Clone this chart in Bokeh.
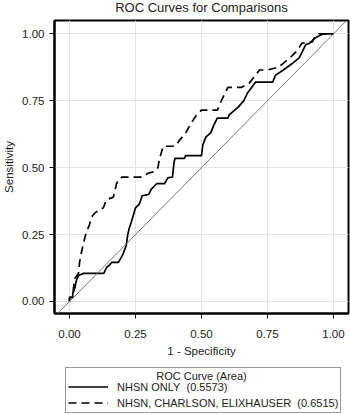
from bokeh.plotting import figure
from bokeh.models import Legend, LegendItem, Label, Slope, Range1d, FixedTicker
from bokeh.layouts import column
from bokeh.embed import file_html
from bokeh.resources import INLINE

title_text = "ROC Curves for Comparisons"
x_label = "1 - Specificity"
y_label = "Sensitivity"
legend_title = "ROC Curve (Area)"
series_names = ["NHSN ONLY\u00a0 (0.5573)", "NHSN, CHARLSON, ELIXHAUSER\u00a0 (0.6515)"]
ticks = [0.0, 0.25, 0.5, 0.75, 1.0]
tick_labels = ["0.00", "0.25", "0.50", "0.75", "1.00"]

fpr_nhsn = [0, 0, 0.012, 0.012, 0.02, 0.026, 0.034, 0.053, 0.13, 0.14, 0.15, 0.16, 0.185,
            0.196, 0.204, 0.215, 0.22, 0.226, 0.235, 0.25, 0.265, 0.275, 0.30, 0.31, 0.33,
            0.36, 0.372, 0.39, 0.396, 0.40, 0.435, 0.44, 0.50, 0.505, 0.517, 0.535, 0.547,
            0.56, 0.60, 0.605, 0.62, 0.64, 0.66, 0.675, 0.69, 0.705, 0.77, 0.78, 0.81,
            0.845, 0.87, 0.88, 0.895, 0.91, 0.93, 0.95, 0.96, 1.0]
tpr_nhsn = [0, 0.015, 0.015, 0.03, 0.05, 0.08, 0.097, 0.105, 0.105, 0.127, 0.135, 0.146, 0.146,
            0.165, 0.18, 0.21, 0.247, 0.273, 0.30, 0.35, 0.365, 0.395, 0.40, 0.42, 0.44,
            0.44, 0.462, 0.465, 0.52, 0.535, 0.535, 0.545, 0.545, 0.585, 0.615, 0.63, 0.66,
            0.685, 0.685, 0.697, 0.71, 0.727, 0.75, 0.78, 0.80, 0.82, 0.82, 0.845, 0.865,
            0.89, 0.91, 0.93, 0.96, 0.965, 0.985, 0.995, 1.0, 1.0]

fpr_full = [0, 0, 0.012, 0.015, 0.02, 0.034, 0.038, 0.045, 0.053, 0.064, 0.075, 0.083, 0.095,
            0.11, 0.128, 0.14, 0.166, 0.178, 0.185, 0.20, 0.27, 0.30, 0.32, 0.335, 0.34,
            0.355, 0.40, 0.415, 0.44, 0.46, 0.48, 0.50, 0.56, 0.575, 0.60, 0.65, 0.68,
            0.70, 0.72, 0.75, 0.79, 0.81, 0.84, 0.865, 0.88, 0.92, 0.93, 0.945, 1.0]
tpr_full = [0, 0.015, 0.015, 0.05, 0.086, 0.105, 0.146, 0.183, 0.22, 0.26, 0.285, 0.315, 0.33,
            0.34, 0.35, 0.38, 0.39, 0.44, 0.455, 0.465, 0.465, 0.48, 0.485, 0.50, 0.53,
            0.58, 0.58, 0.60, 0.63, 0.665, 0.695, 0.715, 0.715, 0.75, 0.80, 0.80, 0.815,
            0.84, 0.865, 0.865, 0.875, 0.89, 0.915, 0.94, 0.965, 0.97, 0.99, 1.0, 1.0]

FONT = "Liberation Sans"
TXT = "#222222"

# header strip carrying the chart title
hd = figure(width=350, height=18, output_backend="svg", toolbar_location=None,
            x_range=Range1d(0, 295), y_range=Range1d(0, 18),
            x_axis_location=None, y_axis_location=None,
            min_border_left=53, min_border_right=2, min_border_top=0, min_border_bottom=0,
            outline_line_color=None)
hd.grid.visible = False
hd.add_layout(Label(x=147, y=11, x_units="screen", y_units="screen", text=title_text,
                    text_align="center", text_baseline="middle", text_font=FONT,
                    text_font_size="13px", text_color=TXT, level="overlay"))

p = figure(width=350, height=344, output_backend="svg", toolbar_location=None,
           x_range=Range1d(-0.057, 1.057), y_range=Range1d(-0.045, 1.05),
           min_border_left=53, min_border_right=2, min_border_top=2, min_border_bottom=49)

p.outline_line_color = "black"
p.outline_line_width = 2

for ax in (p.xaxis[0], p.yaxis[0]):
    ax.ticker = FixedTicker(ticks=ticks)
    ax.major_label_overrides = dict(zip(ticks, tick_labels))
    ax.major_label_text_font = FONT
    ax.major_label_text_font_size = "11.5px"
    ax.major_label_text_color = TXT
    ax.axis_label_text_font = FONT
    ax.axis_label_text_font_size = "11.5px"
    ax.axis_label_text_font_style = "normal"
    ax.axis_label_text_color = TXT
    ax.axis_line_color = "black"
    ax.axis_line_width = 2
    ax.major_tick_line_color = "black"
    ax.major_tick_in = 0
    ax.major_tick_out = 5
    ax.minor_tick_line_color = None

p.xaxis.axis_label = x_label
p.yaxis.axis_label = y_label
p.xaxis.major_label_standoff = 11
p.xaxis.axis_label_standoff = 4
p.yaxis.major_label_standoff = 5
p.yaxis.axis_label_standoff = 4

p.xgrid.ticker = FixedTicker(ticks=ticks)
p.ygrid.ticker = FixedTicker(ticks=ticks)
p.grid.grid_line_color = "#e4e4e4"
p.grid.grid_line_width = 1

p.add_layout(Slope(gradient=1, y_intercept=0, line_color="#777777", line_width=1))

p.line(fpr_nhsn, tpr_nhsn, line_color="black", line_width=1.7)
p.line(fpr_full, tpr_full, line_color="black", line_width=1.7, line_dash="8 5")

# legend strip below the plot (frame aligned with the main plot's frame)
lg = figure(width=350, height=52, output_backend="svg", toolbar_location=None,
            x_range=Range1d(0, 295), y_range=Range1d(0, 52),
            x_axis_location=None, y_axis_location=None,
            min_border_left=53, min_border_right=2, min_border_top=0, min_border_bottom=0,
            outline_line_color=None)
lg.grid.visible = False
k1 = lg.line([-10, -5], [-10, -5], line_color="black", line_width=1.5)
k2 = lg.line([-10, -5], [-10, -5], line_color="black", line_width=1.5, line_dash="8 5")

legend = Legend(items=[LegendItem(label=series_names[0], renderers=[k1]),
                       LegendItem(label=series_names[1], renderers=[k2])],
                location=(11, 1), orientation="vertical",
                title=" ", title_text_font_size="8px", title_standoff=0,
                border_line_color="#333333", border_line_width=1,
                background_fill_alpha=0,
                label_text_font=FONT, label_text_font_size="11px", label_text_color=TXT,
                glyph_width=40, glyph_height=15, label_height=15, label_standoff=9,
                padding=2, spacing=1, margin=0)
lg.add_layout(legend, "center")
lg.add_layout(Label(x=147, y=39, x_units="screen", y_units="screen", text=legend_title,
                    text_align="center", text_baseline="middle", text_font=FONT,
                    text_font_size="11px", text_color=TXT, level="overlay"))

open("out.html", "w").write(file_html(column(hd, p, lg, spacing=0), INLINE))
